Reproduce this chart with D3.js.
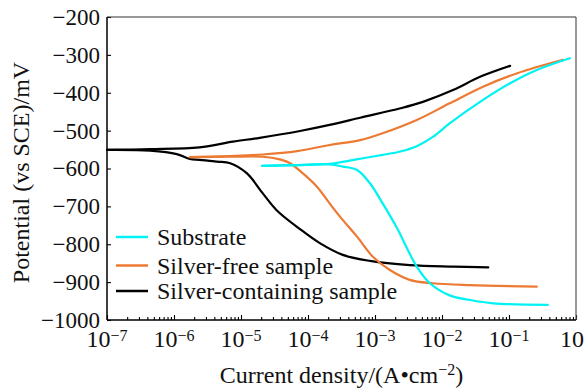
<!DOCTYPE html>
<html>
<head>
<meta charset="utf-8">
<script src="https://cdn.jsdelivr.net/npm/d3@7/dist/d3.min.js"></script>
<style>
body { margin: 0; background: #fff; }
svg { display: block; }
</style>
</head>
<body>
<svg id="chart" width="584" height="390"></svg>
<script>
var serif = "'Liberation Serif', 'Times New Roman', 'DejaVu Serif', serif";

// tick values
var potentialTicks = [-1000, -900, -800, -700, -600, -500, -400, -300, -200];
var decadeExponents = [-7, -6, -5, -4, -3, -2, -1, 0];

// legend / series
var seriesNames = ["Substrate", "Silver-free sample", "Silver-containing sample"];
var seriesColors = ["#00f2f2", "#ec7a32", "#000000"];

// [current density (A/cm2), potential (mV vs SCE)]
var substrateAnodic = [[2.06e-5, -593], [6.9e-5, -591], [2.1e-4, -588], [4.2e-4, -579], [6.6e-4, -573],
    [1.3e-3, -564], [2.4e-3, -555], [4.2e-3, -541], [7.4e-3, -516], [1.3e-2, -481], [4.1e-2, -419],
    [0.104, -375], [0.26, -340], [0.81, -309]];
var substrateCathodic = [[2.06e-5, -593], [6.9e-5, -591], [2.1e-4, -589], [3.3e-4, -595], [5.4e-4, -604],
    [8.4e-4, -639], [1.3e-3, -692], [2.1e-3, -755], [4.2e-3, -859], [6.6e-3, -903], [1.3e-2, -935],
    [2.6e-2, -947], [5.8e-2, -956], [0.38, -960]];
var silverFreeAnodic = [[1.73e-6, -570], [6.9e-6, -567], [2.1e-5, -563], [6.9e-5, -554], [2.1e-4, -538],
    [6.0e-4, -525], [1.3e-3, -507], [4.2e-3, -472], [1.3e-2, -428], [4.1e-2, -384], [0.13, -349], [0.64, -313]];
var silverFreeCathodic = [[1.73e-6, -570], [6.9e-6, -569], [2.1e-5, -569], [3.8e-5, -576], [5.4e-5, -586],
    [8.4e-5, -613], [1.36e-4, -648], [2.1e-4, -692], [3.0e-4, -727], [5.4e-4, -780], [9.3e-4, -833],
    [1.67e-3, -868], [3.3e-3, -894], [7.3e-3, -903], [2.6e-2, -908], [0.26, -912]];
var silverAnodic = [[1e-7, -551], [4.4e-7, -549], [2.4e-6, -544], [7.6e-6, -529], [1.9e-5, -519],
    [7.6e-5, -501], [2.1e-4, -485], [6.0e-4, -466], [2.4e-3, -441], [5.2e-3, -424], [1.46e-2, -393],
    [3.7e-2, -358], [0.104, -329]];
var silverCathodic = [[1e-7, -551], [4.4e-7, -553], [1.1e-6, -562], [1.73e-6, -575], [2.4e-6, -577],
    [4.4e-6, -582], [6.9e-6, -586], [1.23e-5, -613], [2.1e-5, -665], [3.4e-5, -710], [7.6e-5, -760],
    [1.5e-4, -797], [3.3e-4, -828], [8.4e-4, -844], [3.3e-3, -855], [1.46e-2, -859], [4.9e-2, -861]];

var margin = {top: 17, right: 8, bottom: 70, left: 107},
    width = 584 - margin.left - margin.right,
    height = 390 - margin.top - margin.bottom;

var svg = d3.select("#chart");
var g = svg.append("g").attr("transform", "translate(" + margin.left + "," + margin.top + ")");

var x = d3.scaleLog().domain([1e-7, 1]).range([0, width]);
var y = d3.scaleLinear().domain([-1000, -200]).range([height, 0]);

// minor ticks 2..9 in each decade
var minorTicks = [];
decadeExponents.slice(0, -1).forEach(function (e) {
    for (var k = 2; k < 10; k++) minorTicks.push(k * Math.pow(10, e));
});

g.append("g")
    .attr("transform", "translate(0," + height + ")")
    .call(d3.axisBottom(x).tickValues(minorTicks).tickSize(-3).tickFormat(""))
    .call(function (s) { s.select(".domain").remove(); });
g.append("g")
    .attr("transform", "translate(0," + height + ")")
    .call(d3.axisBottom(x).tickValues(decadeExponents.map(function (e) { return Math.pow(10, e); })).tickSize(-5).tickFormat(""))
    .call(function (s) { s.select(".domain").remove(); });

var yAxis = g.append("g")
    .call(d3.axisLeft(y).tickValues(potentialTicks).tickSize(-4).tickPadding(7).tickFormat(d3.format("d")));
yAxis.select(".domain").remove();
yAxis.attr("font-family", serif).attr("font-size", 23);
yAxis.selectAll(".tick text").attr("fill", "#111");
g.selectAll(".tick line").attr("stroke", "#000").attr("stroke-width", 1.1);

// x tick labels 10^n
decadeExponents.forEach(function (e) {
    var t = g.append("text")
        .attr("x", x(Math.pow(10, e)))
        .attr("y", height + 27)
        .attr("text-anchor", "middle")
        .attr("font-family", serif)
        .attr("font-size", 24)
        .attr("fill", "#111");
    t.append("tspan").text("10");
    t.append("tspan").attr("dy", -6).attr("font-size", 16).text(e < 0 ? "\u2212" + (-e) : String(e));
});

// frame
g.append("line").attr("x1", 0).attr("x2", width).attr("y1", 0).attr("y2", 0).attr("stroke", "#333").attr("stroke-width", 1.2);
g.append("line").attr("x1", width).attr("x2", width).attr("y1", 0).attr("y2", height).attr("stroke", "#555").attr("stroke-width", 1.2);
g.append("line").attr("x1", 0).attr("x2", 0).attr("y1", 0).attr("y2", height).attr("stroke", "#000").attr("stroke-width", 1.5);
g.append("line").attr("x1", 0).attr("x2", width).attr("y1", height).attr("y2", height).attr("stroke", "#000").attr("stroke-width", 1.5);

// curves
var line = d3.line()
    .x(function (d) { return x(d[0]); })
    .y(function (d) { return y(d[1]); })
    .curve(d3.curveCatmullRom.alpha(0.5));

var curves = [
    {data: silverAnodic, color: seriesColors[2]},
    {data: silverCathodic, color: seriesColors[2]},
    {data: silverFreeAnodic, color: seriesColors[1]},
    {data: silverFreeCathodic, color: seriesColors[1]},
    {data: substrateAnodic, color: seriesColors[0]},
    {data: substrateCathodic, color: seriesColors[0]}
];
g.append("g").selectAll("path")
    .data(curves)
    .enter().append("path")
    .attr("d", function (d) { return line(d.data); })
    .attr("fill", "none")
    .attr("stroke", function (d) { return d.color; })
    .attr("stroke-width", 2.2)
    .attr("stroke-linejoin", "round")
    .attr("stroke-linecap", "round");

// legend
var legendRows = [220, 248.5, 274];
var legend = g.append("g").attr("transform", "translate(9,0)");
seriesNames.forEach(function (name, i) {
    legend.append("line")
        .attr("x1", 0).attr("x2", 32)
        .attr("y1", legendRows[i]).attr("y2", legendRows[i])
        .attr("stroke", seriesColors[i])
        .attr("stroke-width", 2.5);
    legend.append("text")
        .attr("x", 41)
        .attr("y", legendRows[i])
        .attr("dy", "0.34em")
        .attr("font-family", serif)
        .attr("font-size", 24)
        .attr("fill", "#111")
        .text(name);
});

// axis titles
var xt = svg.append("text")
    .attr("x", margin.left + width / 2)
    .attr("y", 383)
    .attr("text-anchor", "middle")
    .attr("font-family", serif)
    .attr("font-size", 24)
    .attr("fill", "#111");
xt.append("tspan").text("Current density/(A\u2022cm");
xt.append("tspan").attr("dy", -8).attr("font-size", 16).text("\u22122");
xt.append("tspan").attr("dy", 8).text(")");

svg.append("text")
    .attr("transform", "translate(29," + (margin.top + height / 2 + 4) + ") rotate(-90)")
    .attr("text-anchor", "middle")
    .attr("font-family", serif)
    .attr("font-size", 24)
    .attr("fill", "#111")
    .text("Potential (vs SCE)/mV");
</script>
</body>
</html>
